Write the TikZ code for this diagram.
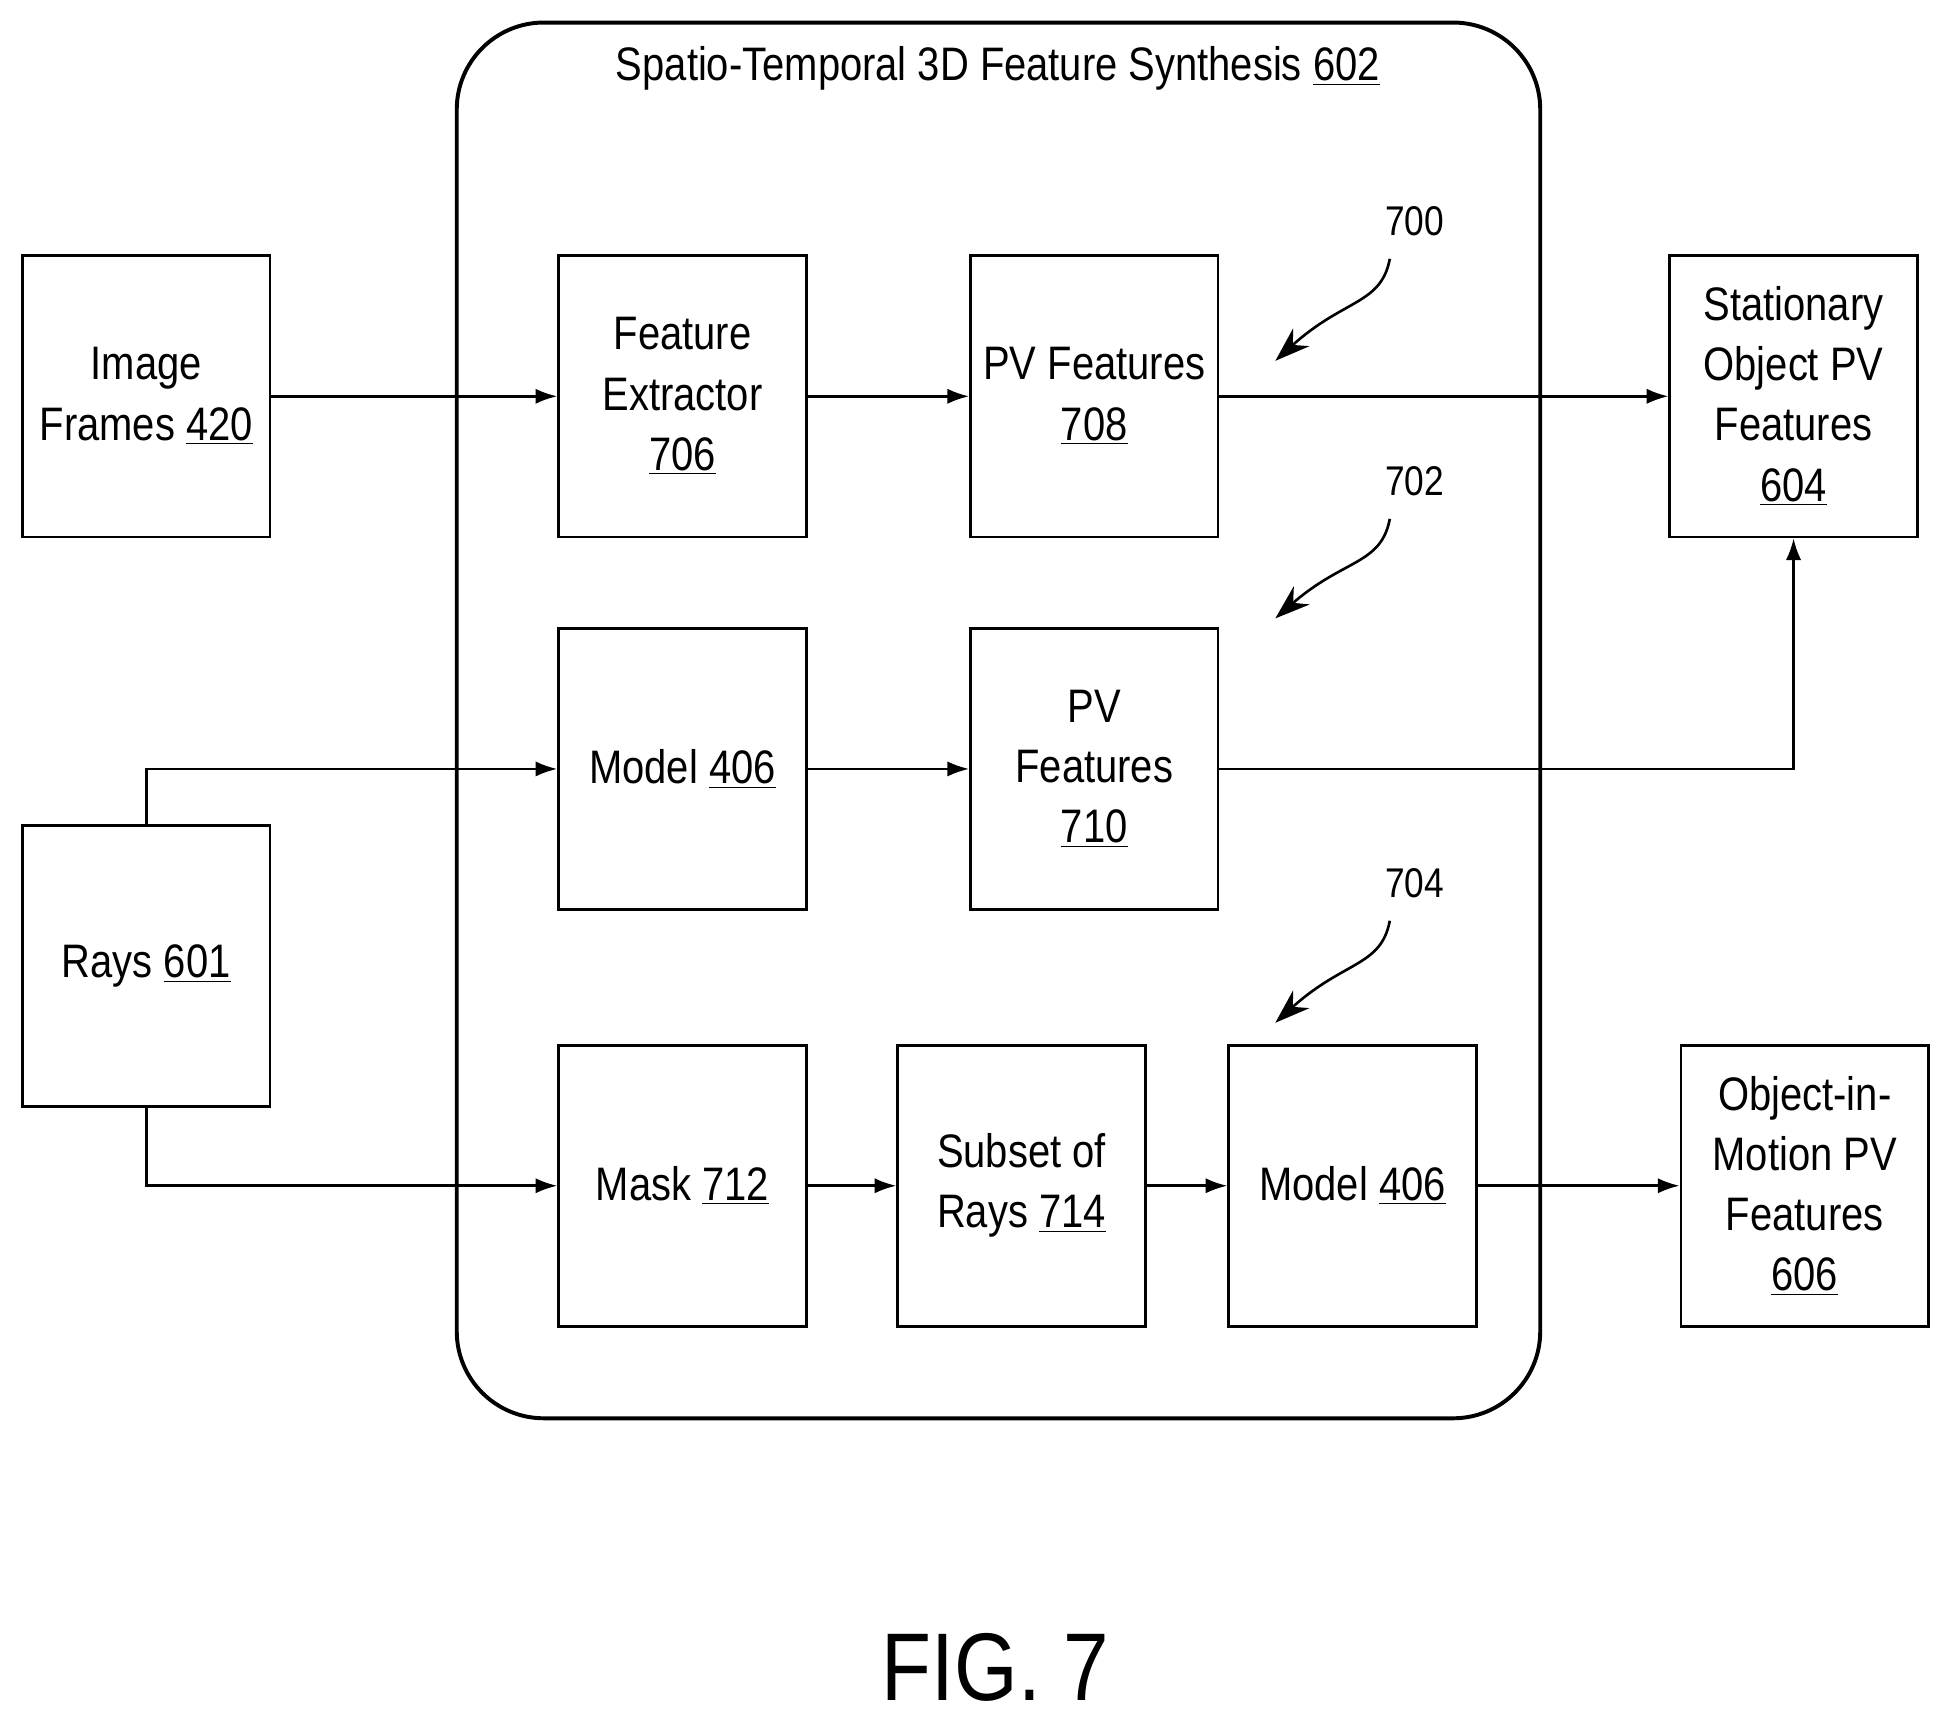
\documentclass[tikz,border=0pt]{standalone}
\usepackage{fontspec}
\setmainfont{Liberation Sans}[FakeStretch=0.85]
\usetikzlibrary{arrows.meta}
\newcommand{\ul}[1]{\underline{#1}}
\begin{document}
\begin{tikzpicture}[x=0.02cm,y=-0.02cm,
  box/.style={draw,line width=1.2pt,minimum width=3.98cm,minimum height=4.52cm,align=center,font=\fontsize{21.5}{27.5}\selectfont,inner sep=0pt},
  arr/.style={line width=1.2pt,-{Latex[length=10pt,width=7pt]}},
  lab/.style={font=\fontsize{19}{22}\selectfont},
  curl/.style={line width=1.2pt,-{Stealth[length=16pt,width=11pt]}}]
\useasboundingbox (0,0) rectangle (1560,1380);
\node[draw,line width=1.8pt,rounded corners=1.4cm,minimum width=17.42cm,minimum height=22.44cm] (main) at (802.5,579) {};
\node[font=\fontsize{21.5}{24}\selectfont] (title) at (802,55) {Spatio-Temporal 3D Feature Synthesis \ul{602}};
\node[box] (img) at (117.5,318.5) {Image\\Frames \ul{420}};
\node[box] (fe) at (548.5,318.5) {Feature\\Extractor\\\ul{706}};
\node[box] (pv1) at (879.5,318.5) {PV Features\\\ul{708}};
\node[box] (stat) at (1441.5,318.5) {Stationary\\Object PV\\Features\\\ul{604}};
\node[box] (m1) at (548.5,618) {Model \ul{406}};
\node[box] (pv2) at (879.5,618) {PV\\Features\\\ul{710}};
\node[box] (rays) at (117.5,776.5) {Rays \ul{601}};
\node[box] (mask) at (548.5,953) {Mask \ul{712}};
\node[box] (sub) at (821,953) {Subset of\\Rays \ul{714}};
\node[box] (m2) at (1087,953) {Model \ul{406}};
\node[box] (obj) at (1450.5,953) {Object-in-\\Motion PV\\Features\\\ul{606}};
\draw[arr] (img) -- (fe);
\draw[arr] (fe) -- (pv1);
\draw[arr] (pv1) -- (stat);
\draw[arr] (m1) -- (pv2);
\draw[arr] (pv2.east) -| (stat.south);
\draw[arr] (rays.north) |- (m1.west);
\draw[arr] (rays.south) |- (mask.west);
\draw[arr] (mask) -- (sub);
\draw[arr] (sub) -- (m2);
\draw[arr] (m2) -- (obj);
\node[lab] (l700) at (1137,178) {700};
\node[lab] (l702) at (1137,387) {702};
\node[lab] (l704) at (1137,710) {704};
\coordinate (t700) at (1025,290);
\coordinate (t702) at (1025,497);
\coordinate (t704) at (1025,822);
\draw[curl] (1117,208) .. controls (1110,245) and (1080,240) .. (t700);
\draw[curl] (1117,417) .. controls (1110,454) and (1080,449) .. (t702);
\draw[curl] (1117,740) .. controls (1110,777) and (1080,772) .. (t704);
\node[font=\fontsize{44}{50}\selectfont] (fig) at (800,1340) {FIG. 7};
\end{tikzpicture}
\end{document}
